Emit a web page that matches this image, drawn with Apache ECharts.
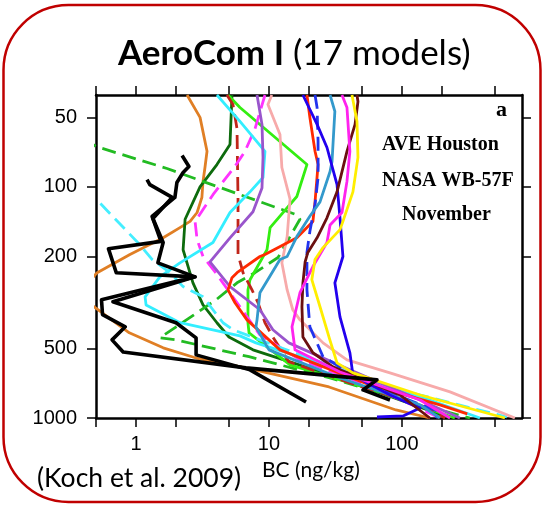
<!DOCTYPE html>
<html><head><meta charset="utf-8">
<script src="https://cdn.jsdelivr.net/npm/echarts@6/dist/echarts.min.js"></script>
<style>html,body{margin:0;padding:0;background:#fff}#c{width:543px;height:505px}</style>
</head><body><div id="c"></div>
<script>
// ---- axis ranges & ticks ----
const xMin = 0.5, xMax = 800, yMin = 40, yMax = 1000;
const xTicks = [0.5, 1, 2, 5, 10, 20, 50, 100, 200, 500];
const xLabels = [1, 10, 100];
const yTicks = [50, 100, 200, 500, 1000];
const yLabels = [50, 100, 200, 500, 1000];

// ---- profiles: [BC (ng/kg), pressure (hPa)] ----
const orange = [[2.42,40],[3.03,50],[3.42,70.1],[3.30,82.4],[3.19,94.7],[3.13,111],[2.88,129],[2.55,141],[2.14,150],[1.60,166],[0.90,196],[0.51,235],[0.4,275],[0.45,320],[0.89,428],[1.60,497],[2.83,550],[6.71,607],[28.3,734],[90.2,923],[162,1000]];
const darkGreen = [[5.27,40],[5.09,65.5],[4.06,80],[3.03,100],[2.34,138],[2.26,187],[2.68,260],[3.19,324],[4.06,387],[5.0,446],[7.58,507],[28.8,651],[96.6,836],[230,1000]];
const greenDash = [[0.3,55],[0.5,66.8],[1.71,83.2],[6.05,108],[16.2,132],[17.1,138],[11.7,202],[7.85,235],[5.75,260],[4.0,308],[1.51,450],[2.0,459],[7.08,543],[28.8,671],[137,878],[325,1000]];
const brightGreen = [[4.92,40],[6.05,45.3],[19.3,80],[16.2,110],[10.2,150],[9.66,187],[7.2,252],[6.95,279],[6.95,387],[7.08,428],[14.4,589],[68.4,771],[250,1000]];
const redDash = [[4.83,40],[5.36,44],[5.75,56],[5.85,113],[5.85,196],[6.38,235],[7.45,279],[8.27,317],[9.33,387],[10.7,446],[14.1,571],[40.6,705],[137,878],[211,1000]];
const magentaDash = [[9.33,40],[7.85,56],[6.6,70.1],[5.55,81.5],[3.79,108],[2.78,141],[2.88,169],[3.19,200],[3.93,233],[6.27,340],[8.55,437],[17.1,560],[68.4,756],[193,1000]];
const cyan = [[4.06,40],[6.05,52],[9.33,70.1],[9.02,91],[7.2,105],[5.09,129],[3.79,174],[2.14,213],[1.51,245],[1.17,299],[1.19,324],[2.14,387],[6.05,441],[7.98,473],[34.2,619],[162,836],[386,1000]];
const cyanDash = [[0.54,118],[1.07,178],[1.32,206],[1.80,235],[2.26,270],[3.19,299],[3.79,340],[4.51,387],[5.36,415],[17.1,533],[96.6,756],[615,990]];
const purple = [[8.13,40],[8.86,53.6],[9.02,74.5],[8.86,101],[7.58,128],[5.09,166],[3.6,211],[5.09,270],[8.55,340],[10.7,415],[14.1,473],[40.6,619],[137,836],[273,1000]];
const pink = [[10.5,40],[9.82,44],[12.1,59.3],[12.5,82.4],[14.4,113],[13.7,164],[12.5,213],[13.7,279],[15.1,340],[17.1,376],[25.5,473],[38.6,560],[81.3,638],[230,771],[707,1000]];
const red = [[19.3,40],[20.3,50],[22.2,70.1],[23.4,80],[22.2,116],[21.4,141],[16.2,166],[9.33,196],[8.55,200],[5.75,235],[5.27,247],[4.92,279],[5.55,317],[6.83,376],[12.1,507],[57.4,719],[193,878],[310,960]];
const blueDash = [[22.2,40],[23.0,45.3],[23.4,63.5],[23.4,91],[22.2,119],[20.3,156],[19.3,192],[19.3,279],[20.3,403],[25.5,543],[57.4,719],[193,942],[180,1000]];
const steelBlue = [[28.8,40],[31.3,47.1],[29.8,77.6],[28.8,85.7],[24.2,116],[20.3,134],[16.2,164],[13.7,200],[12.1,206],[8.55,287],[8.13,376],[7.98,403],[10,507],[34.2,671],[137,878],[193,1000]];
const blue = [[18.0,40],[23.0,53.6],[27.3,67.5],[32.5,97.7],[34.2,136],[36.0,200],[31.3,260],[34.2,365],[40.6,522],[42.8,651],[81.3,795],[137,906],[102,980],[64.9,990]];
const brown = [[45.9,40],[46.7,42.7],[44.4,53.6],[38.6,70.1],[32.5,105],[27.3,136],[23.0,166],[19.6,192],[18.7,211],[18.0,260],[17.7,330],[18.0,446],[21.4,522],[30.3,601],[45.9,664],[96.6,795],[162,1000]];
const magenta = [[35.4,40],[38.6,45.3],[40.6,70.1],[38.6,94.6],[35.4,129],[28.8,146],[27.3,174],[21.4,221],[17.1,287],[14.9,403],[15.7,507],[34.2,632],[137,836],[230,1000]];
const yellow = [[42.1,40],[45.9,52],[46.7,74.5],[42.8,105],[36.0,141],[34.2,153],[25.5,183],[22.2,206],[21.0,252],[24.2,330],[28.7,459],[32.5,577],[42.8,638],[137,795],[595,1000]];
const obsA = [[1.21,93],[1.27,97.7],[1.87,111],[1.34,137],[1.60,174],[1.46,213],[2.78,245],[0.67,314],[2.0,387],[2.83,450],[2.83,533],[7.2,619],[19.0,853]];
const obsB = [[2.22,73.1],[2.50,81.6],[2.26,86.6],[2.03,95.7],[1.96,111],[1.32,134],[1.54,172],[0.62,185],[0.71,235],[2.78,245],[0.55,308],[0.56,357],[0.83,403],[0.66,459],[0.80,518],[6.71,607],[64.9,684],[50.9,756],[81.3,836]];

const models = [
  {d: orange, c: '#e07f25'},
  {d: darkGreen, c: '#0d6b0d'},
  {d: greenDash, c: '#22bb22', dash: true},
  {d: brightGreen, c: '#33ee11'},
  {d: redDash, c: '#c0251a', dash: true},
  {d: magentaDash, c: '#ff33ff', dash: true},
  {d: cyan, c: '#33eeff'},
  {d: cyanDash, c: '#44eeff', dash: true},
  {d: purple, c: '#9955cc'},
  {d: pink, c: '#f7aaaa'},
  {d: red, c: '#ff2a00'},
  {d: blueDash, c: '#2233ee', dash: true},
  {d: steelBlue, c: '#3399cc'},
  {d: blue, c: '#2200ee'},
  {d: brown, c: '#6b1010'},
  {d: magenta, c: '#ff22ee'},
  {d: yellow, c: '#ffee00'},
  {d: obsA, c: '#000000', w: 3.6},
  {d: obsB, c: '#000000', w: 3.6}
];

const L = Math.log10;
const nearestLabel = (arr, v) => {
  let best = arr[0];
  arr.forEach(a => { if (Math.abs(L(a) - v) < Math.abs(L(best) - v)) best = a; });
  return String(best);
};

const series = models.map((m, i) => ({
  type: 'line',
  xAxisIndex: 0, yAxisIndex: 0,
  data: m.d.map(p => [L(p[0]), L(p[1])]),
  showSymbol: false, symbol: 'none',
  clip: true, silent: true, z: 2 + i,
  lineStyle: {color: m.c, width: m.w || 2.8, type: m.dash ? [14, 7] : 'solid', cap: 'butt', join: 'round'}
}));

const tickStyle = {lineStyle: {color: '#000', width: 1.5}, length: 9, inside: false};
const axLine = {show: true, onZero: false, lineStyle: {color: '#000', width: 2.5}};
const labFont = {fontFamily: 'Liberation Sans', fontSize: 20, color: '#000'};

const xBase = {type: 'value', min: L(xMin), max: L(xMax), splitLine: {show: false}, axisLine: axLine};
const yBase = {type: 'value', inverse: true, min: L(yMin), max: L(yMax), splitLine: {show: false}, axisLine: axLine};

const option = {
  animation: false,
  backgroundColor: '#fff',
  grid: {left: 96, right: 21, top: 95, bottom: 87, containLabel: false},
  xAxis: [
    Object.assign({}, xBase, {position: 'bottom',
      axisTick: Object.assign({customValues: xTicks.map(L)}, tickStyle),
      axisLabel: Object.assign({customValues: xLabels.map(L), margin: 16, formatter: v => nearestLabel(xLabels, v)}, labFont)}),
    Object.assign({}, xBase, {position: 'top',
      axisTick: Object.assign({customValues: xTicks.map(L)}, tickStyle),
      axisLabel: {show: false}})
  ],
  yAxis: [
    Object.assign({}, yBase, {position: 'left',
      axisTick: Object.assign({customValues: yTicks.map(L)}, tickStyle),
      axisLabel: Object.assign({customValues: yLabels.map(L), margin: 19, padding: [7, 0, 0, 0], formatter: v => nearestLabel(yLabels, v)}, labFont)}),
    Object.assign({}, yBase, {position: 'right',
      axisTick: Object.assign({customValues: yTicks.map(L)}, tickStyle),
      axisLabel: {show: false}})
  ],
  series: series,
  graphic: [
    {type: 'rect', z: 100, shape: {x: 3.5, y: 5, width: 537, height: 497, r: 65},
      style: {fill: 'none', stroke: '#c00000', lineWidth: 2.5}},
    {type: 'text', z: 100, x: 118, y: 54, style: {
      text: '{b|AeroCom I}{n|\u00a0(17 models)}', align: 'left', verticalAlign: 'middle',
      rich: {b: {fontFamily: 'Lato', fontWeight: 'bold', fontSize: 35, fill: '#000'},
             n: {fontFamily: 'Lato', fontSize: 35, fill: '#000'}}}},
    {type: 'text', z: 100, x: 37, y: 478, style: {text: '(Koch et al. 2009)', fontFamily: 'Lato', fontSize: 26.5, fill: '#000', align: 'left', verticalAlign: 'middle'}},
    {type: 'text', z: 100, x: 262, y: 470, style: {text: 'BC (ng/kg)', fontFamily: 'Lato', fontSize: 21, fill: '#000', align: 'left', verticalAlign: 'middle'}},
    {type: 'text', z: 100, x: 507, y: 110, style: {text: 'a', fontFamily: 'Liberation Serif', fontWeight: 'bold', fontSize: 22, fill: '#000', align: 'right', verticalAlign: 'middle'}},
    {type: 'text', z: 100, x: 382, y: 145, style: {text: 'AVE Houston', fontFamily: 'Liberation Serif', fontWeight: 'bold', fontSize: 20, fill: '#000', align: 'left', verticalAlign: 'middle'}},
    {type: 'text', z: 100, x: 382, y: 181, style: {text: 'NASA WB-57F', fontFamily: 'Liberation Serif', fontWeight: 'bold', fontSize: 20, fill: '#000', align: 'left', verticalAlign: 'middle'}},
    {type: 'text', z: 100, x: 402, y: 215, style: {text: 'November', fontFamily: 'Liberation Serif', fontWeight: 'bold', fontSize: 20, fill: '#000', align: 'left', verticalAlign: 'middle'}}
  ]
};

const chart = echarts.init(document.getElementById('c'), null, {renderer: 'canvas'});
chart.setOption(option);
</script>
</body></html>
